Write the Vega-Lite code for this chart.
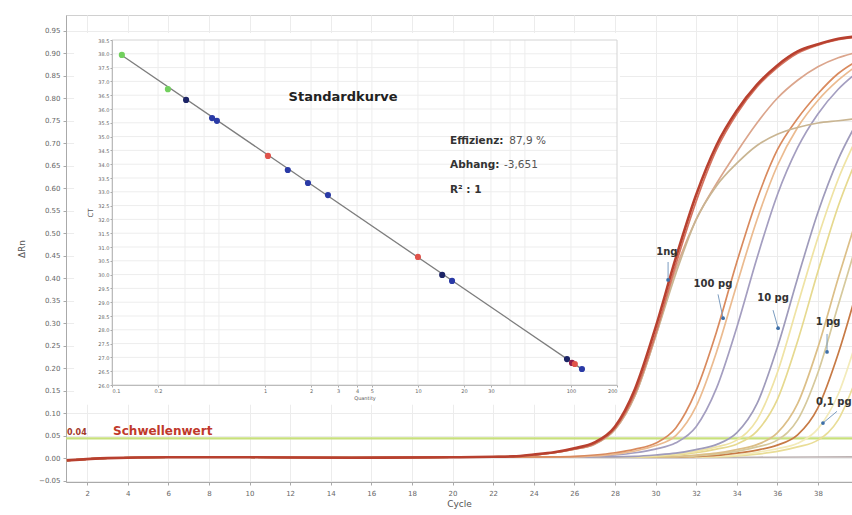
{
"$schema": "https://vega.github.io/schema/vega-lite/v6.json",
"width": 786, "height": 467,
"autosize": {"type": "none"},
"padding": {"left": 66, "top": 15, "right": 0, "bottom": 33},
"background": "white",
"config": {
  "font": "DejaVu Sans",
  "view": {"stroke": "#d0d0d0"},
  "axis": {"labelColor": "#666", "labelFont": "DejaVu Sans", "tickColor": "#aaa", "domainColor": "#aaa", "gridColor": "#ececec", "titleColor": "#555", "titleFontWeight": "normal", "titleFont": "DejaVu Sans", "labelOverlap": false}
},
"datasets": {
  "curves": [
    {"s":"N","c":1,"v":-0.005},{"s":"N","c":3,"v":0.0},{"s":"N","c":6,"v":0.002},{"s":"N","c":10,"v":0.002},{"s":"N","c":15,"v":0.001},{"s":"N","c":20,"v":0.002},{"s":"N","c":25,"v":0.002},{"s":"N","c":30,"v":0.001},{"s":"N","c":35,"v":0.002},{"s":"N","c":40,"v":0.003},
    {"s":"E2","c":1,"v":-0.005},{"s":"E2","c":3,"v":0.0},{"s":"E2","c":6,"v":0.002},{"s":"E2","c":10,"v":0.002},{"s":"E2","c":15,"v":0.001},{"s":"E2","c":20,"v":0.002},{"s":"E2","c":33,"v":0.003},{"s":"E2","c":34,"v":0.005},{"s":"E2","c":35,"v":0.009},{"s":"E2","c":36,"v":0.015},{"s":"E2","c":37,"v":0.025},{"s":"E2","c":38,"v":0.04},{"s":"E2","c":39,"v":0.085},{"s":"E2","c":40,"v":0.19},
    {"s":"E1","c":1,"v":-0.005},{"s":"E1","c":3,"v":0.0},{"s":"E1","c":6,"v":0.002},{"s":"E1","c":10,"v":0.002},{"s":"E1","c":15,"v":0.001},{"s":"E1","c":20,"v":0.002},{"s":"E1","c":32,"v":0.003},{"s":"E1","c":33,"v":0.004},{"s":"E1","c":34,"v":0.007},{"s":"E1","c":35,"v":0.013},{"s":"E1","c":36,"v":0.021},{"s":"E1","c":37,"v":0.033},{"s":"E1","c":38,"v":0.065},{"s":"E1","c":39,"v":0.142},{"s":"E1","c":40,"v":0.276},
    {"s":"D3","c":1,"v":-0.005},{"s":"D3","c":3,"v":0.0},{"s":"D3","c":6,"v":0.002},{"s":"D3","c":10,"v":0.002},{"s":"D3","c":15,"v":0.001},{"s":"D3","c":20,"v":0.002},{"s":"D3","c":31,"v":0.002},{"s":"D3","c":32,"v":0.004},{"s":"D3","c":33,"v":0.006},{"s":"D3","c":34,"v":0.011},{"s":"D3","c":35,"v":0.018},{"s":"D3","c":36,"v":0.029},{"s":"D3","c":37,"v":0.052},{"s":"D3","c":38,"v":0.112},{"s":"D3","c":39,"v":0.232},{"s":"D3","c":40,"v":0.385},
    {"s":"D2","c":1,"v":-0.005},{"s":"D2","c":3,"v":0.0},{"s":"D2","c":6,"v":0.002},{"s":"D2","c":10,"v":0.002},{"s":"D2","c":15,"v":0.001},{"s":"D2","c":20,"v":0.002},{"s":"D2","c":31,"v":0.003},{"s":"D2","c":32,"v":0.005},{"s":"D2","c":33,"v":0.009},{"s":"D2","c":34,"v":0.015},{"s":"D2","c":35,"v":0.025},{"s":"D2","c":36,"v":0.04},{"s":"D2","c":37,"v":0.085},{"s":"D2","c":38,"v":0.19},{"s":"D2","c":39,"v":0.34},{"s":"D2","c":40,"v":0.49},
    {"s":"D1","c":1,"v":-0.005},{"s":"D1","c":3,"v":0.0},{"s":"D1","c":6,"v":0.002},{"s":"D1","c":10,"v":0.002},{"s":"D1","c":15,"v":0.001},{"s":"D1","c":20,"v":0.002},{"s":"D1","c":30,"v":0.003},{"s":"D1","c":31,"v":0.004},{"s":"D1","c":32,"v":0.007},{"s":"D1","c":33,"v":0.011},{"s":"D1","c":34,"v":0.019},{"s":"D1","c":35,"v":0.03},{"s":"D1","c":36,"v":0.056},{"s":"D1","c":37,"v":0.121},{"s":"D1","c":38,"v":0.246},{"s":"D1","c":39,"v":0.4},{"s":"D1","c":40,"v":0.546},
    {"s":"C3","c":1,"v":-0.005},{"s":"C3","c":3,"v":0.0},{"s":"C3","c":6,"v":0.002},{"s":"C3","c":10,"v":0.002},{"s":"C3","c":15,"v":0.001},{"s":"C3","c":20,"v":0.002},{"s":"C3","c":29,"v":0.003},{"s":"C3","c":30,"v":0.004},{"s":"C3","c":31,"v":0.007},{"s":"C3","c":32,"v":0.012},{"s":"C3","c":33,"v":0.02},{"s":"C3","c":34,"v":0.031},{"s":"C3","c":35,"v":0.06},{"s":"C3","c":36,"v":0.13},{"s":"C3","c":37,"v":0.26},{"s":"C3","c":38,"v":0.415},{"s":"C3","c":39,"v":0.56},{"s":"C3","c":40,"v":0.675},
    {"s":"C2","c":1,"v":-0.005},{"s":"C2","c":3,"v":0.0},{"s":"C2","c":6,"v":0.002},{"s":"C2","c":10,"v":0.002},{"s":"C2","c":15,"v":0.001},{"s":"C2","c":20,"v":0.002},{"s":"C2","c":29,"v":0.003},{"s":"C2","c":30,"v":0.005},{"s":"C2","c":31,"v":0.009},{"s":"C2","c":32,"v":0.015},{"s":"C2","c":33,"v":0.025},{"s":"C2","c":34,"v":0.04},{"s":"C2","c":35,"v":0.085},{"s":"C2","c":36,"v":0.19},{"s":"C2","c":37,"v":0.34},{"s":"C2","c":38,"v":0.49},{"s":"C2","c":39,"v":0.62},{"s":"C2","c":40,"v":0.72},
    {"s":"C1","c":1,"v":-0.005},{"s":"C1","c":3,"v":0.0},{"s":"C1","c":6,"v":0.002},{"s":"C1","c":10,"v":0.002},{"s":"C1","c":15,"v":0.001},{"s":"C1","c":20,"v":0.002},{"s":"C1","c":28,"v":0.003},{"s":"C1","c":29,"v":0.004},{"s":"C1","c":30,"v":0.007},{"s":"C1","c":31,"v":0.011},{"s":"C1","c":32,"v":0.019},{"s":"C1","c":33,"v":0.03},{"s":"C1","c":34,"v":0.056},{"s":"C1","c":35,"v":0.121},{"s":"C1","c":36,"v":0.246},{"s":"C1","c":37,"v":0.4},{"s":"C1","c":38,"v":0.546},{"s":"C1","c":39,"v":0.664},{"s":"C1","c":40,"v":0.752},
    {"s":"B3","c":1,"v":-0.005},{"s":"B3","c":3,"v":0.0},{"s":"B3","c":6,"v":0.002},{"s":"B3","c":10,"v":0.002},{"s":"B3","c":15,"v":0.001},{"s":"B3","c":20,"v":0.002},{"s":"B3","c":26,"v":0.003},{"s":"B3","c":27,"v":0.004},{"s":"B3","c":28,"v":0.007},{"s":"B3","c":29,"v":0.012},{"s":"B3","c":30,"v":0.02},{"s":"B3","c":31,"v":0.034},{"s":"B3","c":32,"v":0.07},{"s":"B3","c":33,"v":0.155},{"s":"B3","c":34,"v":0.29},{"s":"B3","c":35,"v":0.445},{"s":"B3","c":36,"v":0.585},{"s":"B3","c":37,"v":0.69},{"s":"B3","c":38,"v":0.765},{"s":"B3","c":39,"v":0.82},{"s":"B3","c":40,"v":0.86},
    {"s":"B2","c":1,"v":-0.005},{"s":"B2","c":3,"v":0.0},{"s":"B2","c":6,"v":0.002},{"s":"B2","c":10,"v":0.002},{"s":"B2","c":15,"v":0.001},{"s":"B2","c":20,"v":0.002},{"s":"B2","c":26,"v":0.003},{"s":"B2","c":27,"v":0.005},{"s":"B2","c":28,"v":0.009},{"s":"B2","c":29,"v":0.016},{"s":"B2","c":30,"v":0.028},{"s":"B2","c":31,"v":0.05},{"s":"B2","c":32,"v":0.115},{"s":"B2","c":33,"v":0.235},{"s":"B2","c":34,"v":0.385},{"s":"B2","c":35,"v":0.53},{"s":"B2","c":36,"v":0.65},{"s":"B2","c":37,"v":0.735},{"s":"B2","c":38,"v":0.795},{"s":"B2","c":39,"v":0.84},{"s":"B2","c":40,"v":0.875},
    {"s":"B1","c":1,"v":-0.005},{"s":"B1","c":3,"v":0.0},{"s":"B1","c":6,"v":0.002},{"s":"B1","c":10,"v":0.002},{"s":"B1","c":15,"v":0.001},{"s":"B1","c":20,"v":0.002},{"s":"B1","c":25,"v":0.003},{"s":"B1","c":26,"v":0.004},{"s":"B1","c":27,"v":0.007},{"s":"B1","c":28,"v":0.012},{"s":"B1","c":29,"v":0.02},{"s":"B1","c":30,"v":0.033},{"s":"B1","c":31,"v":0.067},{"s":"B1","c":32,"v":0.15},{"s":"B1","c":33,"v":0.28},{"s":"B1","c":34,"v":0.435},{"s":"B1","c":35,"v":0.575},{"s":"B1","c":36,"v":0.685},{"s":"B1","c":37,"v":0.755},{"s":"B1","c":38,"v":0.81},{"s":"B1","c":39,"v":0.855},{"s":"B1","c":40,"v":0.885},
    {"s":"A4","c":1,"v":-0.005},{"s":"A4","c":3,"v":0.0},{"s":"A4","c":6,"v":0.002},{"s":"A4","c":10,"v":0.002},{"s":"A4","c":15,"v":0.001},{"s":"A4","c":20,"v":0.002},{"s":"A4","c":22,"v":0.003},{"s":"A4","c":23,"v":0.004},{"s":"A4","c":24,"v":0.007},{"s":"A4","c":25,"v":0.012},{"s":"A4","c":26,"v":0.02},{"s":"A4","c":27,"v":0.031},{"s":"A4","c":28,"v":0.063},{"s":"A4","c":29,"v":0.14},{"s":"A4","c":30,"v":0.27},{"s":"A4","c":31,"v":0.42},{"s":"A4","c":32,"v":0.53},{"s":"A4","c":33,"v":0.61},{"s":"A4","c":34,"v":0.68},{"s":"A4","c":35,"v":0.745},{"s":"A4","c":36,"v":0.8},{"s":"A4","c":37,"v":0.84},{"s":"A4","c":38,"v":0.87},{"s":"A4","c":39,"v":0.89},{"s":"A4","c":40,"v":0.903},
    {"s":"A3","c":1,"v":-0.005},{"s":"A3","c":3,"v":0.0},{"s":"A3","c":6,"v":0.002},{"s":"A3","c":10,"v":0.002},{"s":"A3","c":15,"v":0.001},{"s":"A3","c":20,"v":0.002},{"s":"A3","c":22,"v":0.003},{"s":"A3","c":23,"v":0.004},{"s":"A3","c":24,"v":0.007},{"s":"A3","c":25,"v":0.012},{"s":"A3","c":26,"v":0.02},{"s":"A3","c":27,"v":0.031},{"s":"A3","c":28,"v":0.064},{"s":"A3","c":29,"v":0.14},{"s":"A3","c":30,"v":0.27},{"s":"A3","c":31,"v":0.41},{"s":"A3","c":32,"v":0.53},{"s":"A3","c":33,"v":0.605},{"s":"A3","c":34,"v":0.655},{"s":"A3","c":35,"v":0.695},{"s":"A3","c":36,"v":0.72},{"s":"A3","c":37,"v":0.735},{"s":"A3","c":38,"v":0.745},{"s":"A3","c":39,"v":0.75},{"s":"A3","c":40,"v":0.755},
    {"s":"A2","c":1,"v":-0.005},{"s":"A2","c":3,"v":0.0},{"s":"A2","c":6,"v":0.002},{"s":"A2","c":10,"v":0.002},{"s":"A2","c":15,"v":0.001},{"s":"A2","c":20,"v":0.002},{"s":"A2","c":22,"v":0.003},{"s":"A2","c":23,"v":0.004},{"s":"A2","c":24,"v":0.007},{"s":"A2","c":25,"v":0.012},{"s":"A2","c":26,"v":0.02},{"s":"A2","c":27,"v":0.032},{"s":"A2","c":28,"v":0.066},{"s":"A2","c":29,"v":0.145},{"s":"A2","c":30,"v":0.275},{"s":"A2","c":31,"v":0.43},{"s":"A2","c":32,"v":0.57},{"s":"A2","c":33,"v":0.685},{"s":"A2","c":34,"v":0.765},{"s":"A2","c":35,"v":0.825},{"s":"A2","c":36,"v":0.868},{"s":"A2","c":37,"v":0.9},{"s":"A2","c":38,"v":0.918},{"s":"A2","c":39,"v":0.93},{"s":"A2","c":40,"v":0.936},
    {"s":"A1","c":1,"v":-0.005},{"s":"A1","c":3,"v":0.0},{"s":"A1","c":6,"v":0.002},{"s":"A1","c":10,"v":0.002},{"s":"A1","c":15,"v":0.001},{"s":"A1","c":20,"v":0.002},{"s":"A1","c":22,"v":0.003},{"s":"A1","c":23,"v":0.004},{"s":"A1","c":24,"v":0.008},{"s":"A1","c":25,"v":0.013},{"s":"A1","c":26,"v":0.022},{"s":"A1","c":27,"v":0.035},{"s":"A1","c":28,"v":0.07},{"s":"A1","c":29,"v":0.155},{"s":"A1","c":30,"v":0.29},{"s":"A1","c":31,"v":0.445},{"s":"A1","c":32,"v":0.585},{"s":"A1","c":33,"v":0.695},{"s":"A1","c":34,"v":0.772},{"s":"A1","c":35,"v":0.83},{"s":"A1","c":36,"v":0.873},{"s":"A1","c":37,"v":0.904},{"s":"A1","c":38,"v":0.92},{"s":"A1","c":39,"v":0.932},{"s":"A1","c":40,"v":0.938}
  ],
  "notes": [
    {"c":30.56,"v":0.458,"t":"1ng"},
    {"c":32.83,"v":0.387,"t":"100 pg"},
    {"c":35.79,"v":0.356,"t":"10 pg"},
    {"c":38.5,"v":0.302,"t":"1 pg"}
  ],
  "notes_r": [
    {"c":39.66,"v":0.124,"t":"0,1 pg"}
  ],
  "arrows": [
    {"c":30.62,"v":0.436,"c2":30.62,"v2":0.396},
    {"c":33.08,"v":0.364,"c2":33.33,"v2":0.311},
    {"c":35.79,"v":0.329,"c2":36.04,"v2":0.289},
    {"c":38.45,"v":0.276,"c2":38.45,"v2":0.236},
    {"c":38.94,"v":0.104,"c2":38.25,"v2":0.078}
  ],
  "ins_pts": [
    {"q":0.116,"ct":37.96,"g":"gr"},{"q":0.232,"ct":36.72,"g":"gr"},
    {"q":0.305,"ct":36.33,"g":"nv"},{"q":0.451,"ct":35.67,"g":"bl"},{"q":0.485,"ct":35.57,"g":"bl"},
    {"q":1.046,"ct":34.3,"g":"rd"},
    {"q":1.41,"ct":33.79,"g":"bl"},{"q":1.91,"ct":33.32,"g":"bl"},{"q":2.58,"ct":32.88,"g":"bl"},
    {"q":10.0,"ct":30.64,"g":"rd"},
    {"q":14.4,"ct":29.99,"g":"nv"},{"q":16.7,"ct":29.77,"g":"bl"},
    {"q":94.2,"ct":26.94,"g":"nv"},{"q":101.6,"ct":26.8,"g":"mr"},{"q":106,"ct":26.76,"g":"rd"},{"q":118,"ct":26.58,"g":"bl"}
  ],
  "ins_line": [{"q":0.112,"ct":38.0},{"q":122,"ct":26.52}],
  "ins_gridv": [
    {"q":0.2,"ct":26,"ct2":38.5},{"q":0.3,"ct":26,"ct2":38.5},{"q":0.4,"ct":26,"ct2":38.5},{"q":0.5,"ct":26,"ct2":38.5},
    {"q":1,"ct":26,"ct2":38.5},{"q":2,"ct":26,"ct2":38.5},{"q":3,"ct":26,"ct2":38.5},{"q":4,"ct":26,"ct2":38.5},{"q":5,"ct":26,"ct2":38.5},
    {"q":10,"ct":26,"ct2":38.5},{"q":20,"ct":26,"ct2":38.5},{"q":30,"ct":26,"ct2":38.5},{"q":40,"ct":26,"ct2":38.5},{"q":50,"ct":26,"ct2":38.5},
    {"q":100,"ct":26,"ct2":38.5}
  ],
  "ins_gridh": [
    {"ct":26.5,"q":0.1,"q2":200},{"ct":27,"q":0.1,"q2":200},{"ct":27.5,"q":0.1,"q2":200},{"ct":28,"q":0.1,"q2":200},
    {"ct":28.5,"q":0.1,"q2":200},{"ct":29,"q":0.1,"q2":200},{"ct":29.5,"q":0.1,"q2":200},{"ct":30,"q":0.1,"q2":200},
    {"ct":30.5,"q":0.1,"q2":200},{"ct":31,"q":0.1,"q2":200},{"ct":31.5,"q":0.1,"q2":200},{"ct":32,"q":0.1,"q2":200},
    {"ct":32.5,"q":0.1,"q2":200},{"ct":33,"q":0.1,"q2":200},{"ct":33.5,"q":0.1,"q2":200},{"ct":34,"q":0.1,"q2":200},
    {"ct":34.5,"q":0.1,"q2":200},{"ct":35,"q":0.1,"q2":200},{"ct":35.5,"q":0.1,"q2":200},{"ct":36,"q":0.1,"q2":200},
    {"ct":36.5,"q":0.1,"q2":200},{"ct":37,"q":0.1,"q2":200},{"ct":37.5,"q":0.1,"q2":200},{"ct":38,"q":0.1,"q2":200}
  ]
},
"layer": [
  {
    "layer": [
      {
        "data": {"values": [{"v": 0.044}]},
        "mark": {"type": "rule", "color": "#c8e07c", "strokeWidth": 2.2},
        "encoding": {"y": {"field": "v", "type": "quantitative"}}
      },
      {
        "data": {"name": "curves"},
        "mark": {"type": "line", "interpolate": "monotone", "clip": true},
        "encoding": {
          "x": {"field": "c", "type": "quantitative",
                "scale": {"domain": [0.96, 39.68], "nice": false, "zero": false},
                "axis": {"title": "Cycle", "values": [2,4,6,8,10,12,14,16,18,20,22,24,26,28,30,32,34,36,38], "tickCount": 40, "labelFontSize": 7, "titleFontSize": 9, "tickSize": 3, "labelPadding": 4, "titlePadding": 3, "grid": true}},
          "y": {"field": "v", "type": "quantitative",
                "scale": {"domain": [-0.053, 0.985], "nice": false, "zero": false},
                "axis": {"title": "ΔRn", "values": [-0.05,0,0.05,0.1,0.15,0.2,0.25,0.3,0.35,0.4,0.45,0.5,0.55,0.6,0.65,0.7,0.75,0.8,0.85,0.9,0.95], "tickCount": 40, "format": ".2f", "labelFontSize": 7, "titleFontSize": 9, "tickSize": 3, "labelPadding": 3, "titlePadding": 12, "grid": true}},
          "color": {"field": "s", "type": "nominal", "legend": null,
                    "scale": {"domain": ["N","E2","E1","D3","D2","D1","C3","C2","C1","B3","B2","B1","A4","A3","A2","A1"],
                              "range": ["#bdb3b3","#e9dd97","#f3ebba","#c77a45","#d6c99c","#dcbf88","#e6d98f","#efe3a4","#9f9bbb","#a49ec0","#ebbb90","#d98a5e","#dba58c","#c9b592","#d4735f","#b8402f"]}},
          "strokeWidth": {"condition": {"test": "datum.s === 'A1'", "value": 2.6}, "value": 1.7}
        }
      },
      {
        "data": {"name": "arrows"},
        "mark": {"type": "rule", "color": "#7b9cc0", "strokeWidth": 1},
        "encoding": {
          "x": {"field": "c", "type": "quantitative"}, "y": {"field": "v", "type": "quantitative"},
          "x2": {"field": "c2"}, "y2": {"field": "v2"}
        }
      },
      {
        "data": {"name": "arrows"},
        "mark": {"type": "point", "filled": true, "color": "#3d6fa8", "size": 14, "opacity": 1},
        "encoding": {"x": {"field": "c2", "type": "quantitative"}, "y": {"field": "v2", "type": "quantitative"}}
      },
      {
        "data": {"name": "notes"},
        "mark": {"type": "text", "fontWeight": "bold", "fontSize": 10, "color": "#333", "align": "center", "baseline": "middle"},
        "encoding": {"x": {"field": "c", "type": "quantitative"}, "y": {"field": "v", "type": "quantitative"}, "text": {"field": "t"}}
      },
      {
        "data": {"name": "notes_r"},
        "mark": {"type": "text", "fontWeight": "bold", "fontSize": 10, "color": "#333", "align": "right", "baseline": "middle"},
        "encoding": {"x": {"field": "c", "type": "quantitative"}, "y": {"field": "v", "type": "quantitative"}, "text": {"field": "t"}}
      },
      {
        "data": {"values": [{"c": 1.01, "v": 0.057, "t": "0.04"}]},
        "mark": {"type": "text", "fontSize": 8, "color": "#a33a2c", "align": "left", "baseline": "middle", "fontWeight": "bold"},
        "encoding": {"x": {"field": "c", "type": "quantitative"}, "y": {"field": "v", "type": "quantitative"}, "text": {"field": "t"}}
      },
      {
        "data": {"values": [{"c": 3.28, "v": 0.061, "t": "Schwellenwert"}]},
        "mark": {"type": "text", "fontSize": 12, "color": "#c0392b", "align": "left", "baseline": "middle", "fontWeight": "bold"},
        "encoding": {"x": {"field": "c", "type": "quantitative"}, "y": {"field": "v", "type": "quantitative"}, "text": {"field": "t"}}
      }
    ]
  },
  {
    "layer": [
      {
        "data": {"values": [{"q": 0.0565, "q2": 209, "ct": 25.28, "ct2": 38.75}]},
        "mark": {"type": "rect", "fill": "white", "stroke": null},
        "encoding": {
          "x": {"field": "q", "type": "quantitative",
                "scale": {"type": "log", "domain": [0.1, 200], "range": [46, 551], "nice": false, "zero": false},
                "axis": {"orient": "bottom", "offset": -97, "zindex": 1, "grid": false, "title": "Quantity", "values": [0.1,0.2,1,2,3,4,5,10,20,30,100,200], "tickCount": 40, "format": "~g", "labelFontSize": 5, "titleFontSize": 5, "tickSize": 2, "labelPadding": 1, "titlePadding": 2, "domainColor": "#bbb", "labelOverlap": false}},
          "x2": {"field": "q2"},
          "y": {"field": "ct", "type": "quantitative",
                "scale": {"domain": [26, 38.5], "range": [370, 25], "nice": false, "zero": false},
                "axis": {"orient": "left", "offset": -46, "zindex": 1, "grid": false, "title": "CT", "values": [26,26.5,27,27.5,28,28.5,29,29.5,30,30.5,31,31.5,32,32.5,33,33.5,34,34.5,35,35.5,36,36.5,37,37.5,38,38.5], "tickCount": 40, "format": ".1f", "labelFontSize": 5, "titleFontSize": 7, "tickSize": 2, "labelPadding": 1, "titlePadding": 4, "domainColor": "#bbb", "labelOverlap": false}},
          "y2": {"field": "ct2"}
        }
      },
      {
        "data": {"name": "ins_gridv"},
        "mark": {"type": "rule", "color": "#ededed", "strokeWidth": 1},
        "encoding": {"x": {"field": "q", "type": "quantitative"}, "y": {"field": "ct", "type": "quantitative"}, "y2": {"field": "ct2"}}
      },
      {
        "data": {"name": "ins_gridh"},
        "mark": {"type": "rule", "color": "#ededed", "strokeWidth": 1},
        "encoding": {"y": {"field": "ct", "type": "quantitative"}, "x": {"field": "q", "type": "quantitative"}, "x2": {"field": "q2"}}
      },
      {
        "data": {"values": [{"q": 0.1, "q2": 200, "ct": 26, "ct2": 38.5}]},
        "mark": {"type": "rect", "fill": null, "stroke": "#d4d4d4", "strokeWidth": 1},
        "encoding": {"x": {"field": "q", "type": "quantitative"}, "x2": {"field": "q2"}, "y": {"field": "ct", "type": "quantitative"}, "y2": {"field": "ct2"}}
      },
      {
        "data": {"name": "ins_line"},
        "mark": {"type": "line", "color": "#7d7d7d", "strokeWidth": 1.3},
        "encoding": {"x": {"field": "q", "type": "quantitative"}, "y": {"field": "ct", "type": "quantitative"}}
      },
      {
        "data": {"name": "ins_pts"},
        "mark": {"type": "point", "filled": true, "size": 38, "opacity": 1},
        "encoding": {
          "x": {"field": "q", "type": "quantitative"}, "y": {"field": "ct", "type": "quantitative"},
          "color": {"field": "g", "type": "nominal", "legend": null,
                    "scale": {"domain": ["gr","nv","bl","rd","mr"], "range": ["#72d05e","#1c2466","#2a3aa6","#e0534b","#8c1c4c"]}}
        }
      },
      {
        "data": {"values": [{"q": 3.24, "ct": 36.43, "t": "Standardkurve"}]},
        "mark": {"type": "text", "fontSize": 13, "fontWeight": "bold", "color": "#222", "align": "center", "baseline": "middle"},
        "encoding": {"x": {"field": "q", "type": "quantitative"}, "y": {"field": "ct", "type": "quantitative"}, "text": {"field": "t"}}
      },
      {
        "data": {"values": [{"q": 16.2, "ct": 34.84, "t": "Effizienz:"}, {"q": 16.2, "ct": 33.97, "t": "Abhang:"}, {"q": 16.2, "ct": 33.07, "t": "R² : 1"}]},
        "mark": {"type": "text", "fontSize": 10.5, "fontWeight": "bold", "color": "#333", "align": "left", "baseline": "middle"},
        "encoding": {"x": {"field": "q", "type": "quantitative"}, "y": {"field": "ct", "type": "quantitative"}, "text": {"field": "t"}}
      },
      {
        "data": {"values": [{"q": 39.5, "ct": 34.84, "t": "87,9 %"}, {"q": 36.5, "ct": 33.97, "t": "-3,651"}]},
        "mark": {"type": "text", "fontSize": 10.5, "color": "#555", "align": "left", "baseline": "middle"},
        "encoding": {"x": {"field": "q", "type": "quantitative"}, "y": {"field": "ct", "type": "quantitative"}, "text": {"field": "t"}}
      }
    ]
  }
],
"resolve": {"scale": {"x": "independent", "y": "independent", "color": "independent"}, "axis": {"x": "independent", "y": "independent"}}
}
